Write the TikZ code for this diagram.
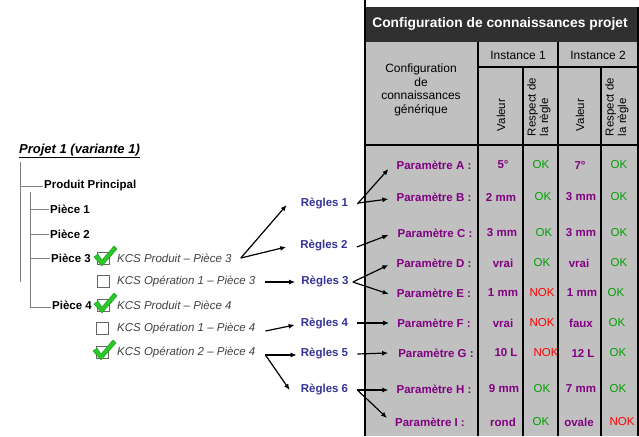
\documentclass[tikz,border=0pt]{standalone}
\usepackage{fontspec}
\setmainfont{Liberation Sans}
\usetikzlibrary{arrows.meta}
\definecolor{purp}{RGB}{128,0,128}
\definecolor{okg}{RGB}{0,160,0}
\definecolor{nokr}{RGB}{255,0,0}
\definecolor{regb}{RGB}{51,51,153}
\definecolor{cellg}{RGB}{192,192,192}
\definecolor{titled}{RGB}{48,48,48}
\definecolor{kcsg}{RGB}{64,64,64}
\definecolor{treeg}{RGB}{128,128,128}
\definecolor{checkg}{RGB}{40,200,40}
\definecolor{checkd}{RGB}{20,150,20}
\newcommand\fsz[1]{\fontsize{#1}{#1}\selectfont}
\begin{document}
\begin{tikzpicture}[x=1pt,y=-1pt,
  every node/.style={inner sep=1pt},
  titlestyle/.style={text=white,font=\bfseries\fsz{13.8}},
  hdr/.style={font=\fsz{12}},
  hdrrot/.style={font=\fontsize{11.5}{12.5}\selectfont,rotate=90,align=left},
  param/.style={text=purp,font=\bfseries\fsz{11.5}},
  val/.style={text=purp,font=\bfseries\fsz{11.5}},
  ok/.style={text=okg,font=\fsz{11.5}},
  nok/.style={text=nokr,font=\fsz{11.5}},
  regle/.style={text=regb,font=\bfseries\fsz{11.5}},
  kcs/.style={text=kcsg,font=\itshape\fsz{11.5},anchor=west},
  piece/.style={font=\bfseries\fsz{11.5},anchor=west},
  arr/.style={-{Latex[length=6pt,width=5pt]},line width=1.2pt},
  tree/.style={draw=treeg,line width=1pt},
  cbox/.style={draw=gray!80!black,fill=white,minimum size=12pt,inner sep=0pt,line width=0.9pt},
  gridline/.style={line width=1.6pt,black},
  tick/.pic={\fill[checkg,draw=checkd,line width=0.4pt,line join=round]
     (-9,-1) -- (-5,-4) -- (-1,2) -- (11,-12) -- (14,-9) -- (-1,8) -- cycle;}
]
\useasboundingbox (0,0) rectangle (639,436);

% ---------- table backgrounds ----------
\fill[cellg] (365,42) rectangle (638,436);
\fill[titled] (365,7) rectangle (638,42);

% ---------- header texts ----------
\node[titlestyle] (title) at (500,24) {Configuration de connaissances projet};
\node[hdr,align=center,font=\fontsize{12}{13.5}\selectfont] (cfg) at (421,90) {Configuration\\de\\connaissances\\générique};
\node[hdr] (inst1) at (518,55) {Instance 1};
\node[hdr] (inst2) at (598,55) {Instance 2};
\node[hdrrot] (val1) at (501,115) {Valeur};
\node[hdrrot] (resp1) at (539,107) {Respect de\\la règle};
\node[hdrrot] (val2) at (580,115) {Valeur};
\node[hdrrot] (resp2) at (617,107) {Respect de\\la règle};

% ---------- body texts ----------
\node[param] (pA) at (434,165) {Paramètre A :};
\node[val] (vA1) at (503,165) {5°};
\node[ok]  (oA1) at (541,165) {OK};
\node[val] (vA2) at (580,165) {7°};
\node[ok]  (oA2) at (619,165) {OK};

\node[param] (pB) at (434,197) {Paramètre B :};
\node[val] (vB1) at (501,197) {2 mm};
\node[ok]  (oB1) at (543,197) {OK};
\node[val] (vB2) at (581,197) {3 mm};
\node[ok]  (oB2) at (619,197) {OK};

\node[param] (pC) at (435,233) {Paramètre C :};
\node[val] (vC1) at (502,233) {3 mm};
\node[ok]  (oC1) at (544,233) {OK};
\node[val] (vC2) at (581,233) {3 mm};
\node[ok]  (oC2) at (619,233) {OK};

\node[param] (pD) at (434,263) {Paramètre D :};
\node[val] (vD1) at (503,263) {vrai};
\node[ok]  (oD1) at (542,263) {OK};
\node[val] (vD2) at (579,263) {vrai};
\node[ok]  (oD2) at (619,263) {OK};

\node[param] (pE) at (434,293) {Paramètre E :};
\node[val] (vE1) at (503,293) {1 mm};
\node[nok] (oE1) at (542,293) {NOK};
\node[val] (vE2) at (582,293) {1 mm};
\node[ok]  (oE2) at (616,293) {OK};

\node[param] (pF) at (434,323) {Paramètre F :};
\node[val] (vF1) at (503,323) {vrai};
\node[nok] (oF1) at (542,323) {NOK};
\node[val] (vF2) at (581,323) {faux};
\node[ok]  (oF2) at (617,323) {OK};

\node[param] (pG) at (436,353) {Paramètre G :};
\node[val] (vG1) at (506,353) {10 L};
\node[nok] (oG1) at (546,353) {NOK};
\node[val] (vG2) at (583,353) {12 L};
\node[ok]  (oG2) at (618,353) {OK};

\node[param] (pH) at (434,389) {Paramètre H :};
\node[val] (vH1) at (504,389) {9 mm};
\node[ok]  (oH1) at (542,389) {OK};
\node[val] (vH2) at (581,389) {7 mm};
\node[ok]  (oH2) at (618,389) {OK};

\node[param] (pI) at (430,422) {Paramètre I :};
\node[val] (vI1) at (503,422) {rond};
\node[ok]  (oI1) at (541,422) {OK};
\node[val] (vI2) at (579,422) {ovale};
\node[nok] (oI2) at (622,422) {NOK};

% ---------- grid lines ----------
\draw[gridline] (365,0) -- (365,436);
\draw[gridline] (638,7) -- (638,436);
\draw[gridline] (478,42) -- (478,436);
\draw[gridline] (558,42) -- (558,436);
\draw[gridline] (523,67) -- (523,436);
\draw[gridline] (601,67) -- (601,436);
\draw[gridline] (478,67) -- (638,67);
\draw[gridline] (365,145) -- (638,145);

% ---------- left tree ----------
\node[anchor=west,font=\bfseries\itshape\fsz{13}] (proj) at (18,151) {\underline{Projet 1 (variante 1)}};
\node[piece] (pp) at (43,186) {Produit Principal};
\node[piece] (p1) at (49,209) {Pièce 1};
\node[piece] (p2) at (49,234) {Pièce 2};
\node[piece] (p3) at (50,258) {Pièce 3};
\node[piece] (p4) at (51,305) {Pièce 4};
\coordinate (t0) at (20,162);
\coordinate (t1) at (20,282);
\coordinate (u0) at (30,192);
\coordinate (u1) at (30,307);
\draw[tree] (t0) -- (t1);
\draw[tree] (20,186) -- (pp.west);
\draw[tree] (u0) -- (u1) -- (u1 -| p4.west);
\draw[tree] (30,209) -- (p1.west);
\draw[tree] (30,234) -- (p2.west);
\draw[tree] (30,258) -- (p3.west);

\node[cbox] (b1) at (103,258) {};
\node[cbox] (b2) at (103,281) {};
\node[cbox] (b3) at (103,305) {};
\node[cbox] (b4) at (102,328) {};
\node[cbox] (b5) at (102,352) {};
\pic at (b1.center) {tick};
\pic at (b3.center) {tick};
\pic at (b5.center) {tick};

\node[kcs] (k1) at (116,258) {KCS Produit – Pièce 3};
\node[kcs] (k2) at (116,281) {KCS Opération 1 – Pièce 3};
\node[kcs] (k3) at (116,305) {KCS Produit – Pièce 4};
\node[kcs] (k4) at (116,328) {KCS Opération 1 – Pièce 4};
\node[kcs] (k5) at (116,352) {KCS Opération 2 – Pièce 4};

\node[regle] (r1) at (324.5,203) {Règles 1};
\node[regle] (r2) at (324,245) {Règles 2};
\node[regle] (r3) at (325,281) {Règles 3};
\node[regle] (r4) at (324.5,323) {Règles 4};
\node[regle] (r5) at (324.5,353) {Règles 5};
\node[regle] (r6) at (324.5,389) {Règles 6};

% ---------- arrows left ----------
\draw[arr] ([shift={(8,0)}]k1.east) -- ([shift={(-13,2)}]r1.west);
\draw[arr] ([shift={(8,0)}]k1.east) -- ([shift={(-13,2)}]r2.west);
\draw[arr] ([shift={(9,1)}]k2.east) -- ([shift={(-5,1)}]r3.west);
\draw[arr] ([shift={(9,3)}]k4.east) -- ([shift={(-5,2)}]r4.west);
\draw[arr] ([shift={(9,3)}]k5.east) -- ([shift={(-3,2)}]r5.west);
\draw[arr] ([shift={(9,3)}]k5.east) -- ([shift={(-10,1)}]r6.west);

% ---------- arrows right ----------
\draw[arr] ([shift={(8,1)}]r1.east) -- ([shift={(-7,4)}]pA.west);
\draw[arr] ([shift={(9,0)}]r1.east) -- ([shift={(-7,2)}]pB.west);
\draw[arr] ([shift={(8,2)}]r2.east) -- ([shift={(-8,2)}]pC.west);
\draw[arr] ([shift={(3,1)}]r3.east) -- ([shift={(-7,2)}]pD.west);
\draw[arr] ([shift={(3,1)}]r3.east) -- ([shift={(-7,1)}]pE.west);
\draw[arr] ([shift={(8,0)}]r4.east) -- ([shift={(-7,0)}]pF.west);
\draw[arr] ([shift={(8,1)}]r5.east) -- ([shift={(-9,0)}]pG.west);
\draw[arr] ([shift={(8,1)}]r6.east) -- ([shift={(-7,1)}]pH.west);
\draw[arr] ([shift={(8,1)}]r6.east) -- ([shift={(-7,-4)}]pI.west);
\end{tikzpicture}
\end{document}
